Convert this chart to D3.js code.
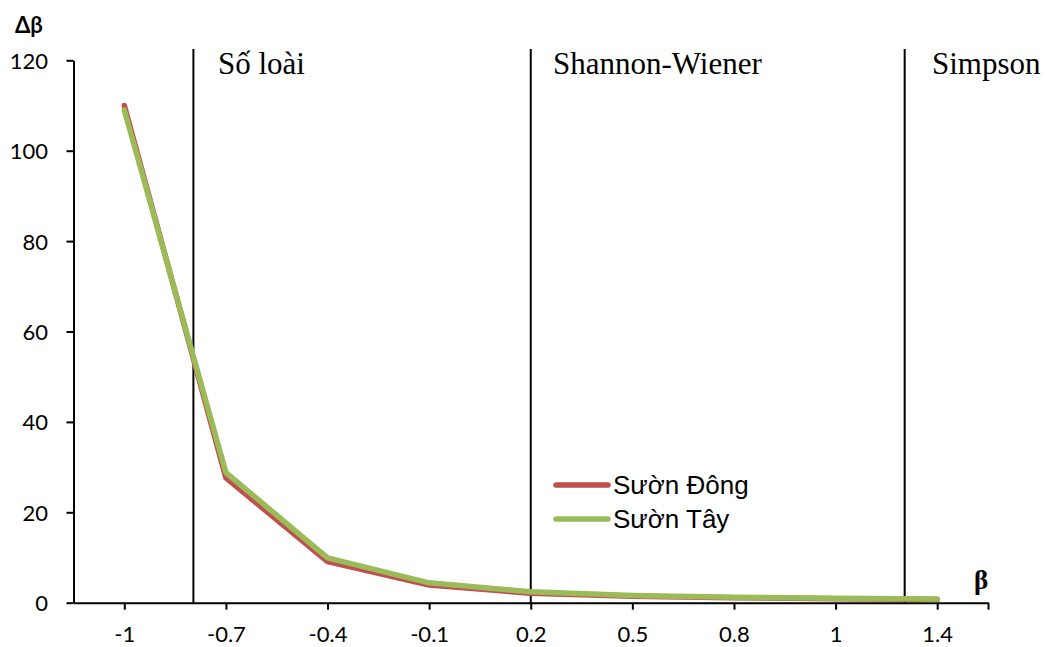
<!DOCTYPE html>
<html>
<head>
<meta charset="utf-8">
<script src="https://cdn.jsdelivr.net/npm/d3@7"></script>
<style>
  html, body { margin: 0; padding: 0; background: #fff; }
  svg { display: block; }
</style>
</head>
<body>
<svg id="chart" width="1045" height="647"></svg>
<script>
// ---- data ----
const categories = ["-1", "-0.7", "-0.4", "-0.1", "0.2", "0.5", "0.8", "1", "1.4"];
const suonDong = [110, 27.6, 9.1, 3.9, 2.1, 1.4, 1.1, 0.9, 0.7];
const suonTay  = [109, 28.8, 9.9, 4.4, 2.4, 1.6, 1.2, 1.0, 0.8];
const seriesNames = ["Sườn Đông", "Sườn Tây"];
const yTicks = [0, 20, 40, 60, 80, 100, 120];
const dividerIndex = [0.68, 4, 7.68];           // positions in category-index units
const dividerLabels = ["Số loài", "Shannon-Wiener", "Simpson"];

// ---- layout ----
const svg = d3.select("#chart");
const plotLeft = 73.5, plotRight = 988, plotTop = 60.3, plotBottom = 602.7;
const x = d3.scaleLinear().domain([-0.5, categories.length - 0.5]).range([plotLeft, plotRight]);
const y = d3.scaleLinear().domain([0, 120]).range([plotBottom, plotTop]);
const colors = ["#C0504D", "#9BBB59"];

// divider lines
svg.append("g").selectAll("line").data(dividerIndex).join("line")
  .attr("x1", d => x(d)).attr("x2", d => x(d))
  .attr("y1", y(122.5)).attr("y2", y(0))
  .attr("stroke", "#000").attr("stroke-width", 2);

// divider labels
const labelX = [218, 553, 932];
svg.append("g").selectAll("text").data(dividerLabels).join("text")
  .attr("x", (d, i) => labelX[i]).attr("y", 74)
  .attr("font-family", "'Liberation Serif', 'Times New Roman', serif")
  .attr("font-size", 31).attr("fill", "#000")
  .text(d => d);

// axes
const xAxis = d3.axisBottom(x)
  .tickValues(d3.range(categories.length).concat([categories.length - 0.5]))
  .tickFormat(i => categories[i] !== undefined ? categories[i] : "")
  .tickSize(7).tickSizeOuter(0);
const gx = svg.append("g").attr("transform", `translate(0,${plotBottom})`).call(xAxis);
gx.select(".domain").attr("stroke", "#000").attr("stroke-width", 2);
gx.selectAll(".tick line").attr("stroke", "#000").attr("stroke-width", 2);
gx.selectAll(".tick text")
  .attr("y", 39).attr("dy", 0)
  .attr("font-family", "Lato, Calibri, sans-serif").attr("font-size", 22).attr("fill", "#000");

const yAxis = d3.axisLeft(y).tickValues(yTicks).tickSize(7).tickSizeOuter(0);
const gy = svg.append("g").attr("transform", `translate(${plotLeft},0)`).call(yAxis);
gy.select(".domain").attr("stroke", "#000").attr("stroke-width", 2);
gy.selectAll(".tick line").attr("stroke", "#000").attr("stroke-width", 2);
gy.selectAll(".tick text")
  .attr("x", -25.5).attr("dy", "0.36em")
  .attr("font-family", "Lato, Calibri, sans-serif").attr("font-size", 22).attr("fill", "#000");

// axis titles
svg.append("text").attr("x", 15).attr("y", 33)
  .attr("font-family", "Lato, Calibri, sans-serif").attr("font-weight", "bold")
  .attr("font-size", 22).attr("fill", "#000").text("Δβ");
svg.append("text").attr("x", 974).attr("y", 589)
  .attr("font-family", "'Liberation Serif', 'Times New Roman', serif").attr("font-weight", "bold")
  .attr("font-size", 27).attr("fill", "#000").text("β");

// series lines
const line = d3.line().x((d, i) => x(i)).y(d => y(d));
[suonDong, suonTay].forEach((s, k) => {
  svg.append("path").datum(s)
    .attr("d", line)
    .attr("fill", "none")
    .attr("stroke", colors[k])
    .attr("stroke-width", 5.5)
    .attr("stroke-linejoin", "round")
    .attr("stroke-linecap", "round");
});

// legend
const legendY = [485, 519];
const lg = svg.append("g");
seriesNames.forEach((name, k) => {
  lg.append("line").attr("x1", 556).attr("x2", 608)
    .attr("y1", legendY[k]).attr("y2", legendY[k])
    .attr("stroke", colors[k]).attr("stroke-width", 5.5).attr("stroke-linecap", "round");
  lg.append("text").attr("x", 613).attr("y", legendY[k] + 9)
    .attr("font-family", "'Liberation Sans', Arial, sans-serif")
    .attr("font-size", 26).attr("fill", "#000").text(name);
});
</script>
</body>
</html>
